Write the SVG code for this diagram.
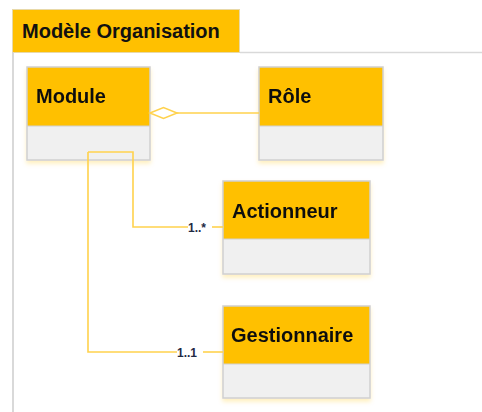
<svg xmlns="http://www.w3.org/2000/svg" width="482" height="412" viewBox="0 0 482 412">
<defs>
<style>
.hdr{fill:#FFC000;}
.body{fill:#F0F0F0;}
.outline{fill:none;stroke:#D0D0D0;stroke-width:1.5;}
.name{font-family:"Liberation Sans",Arial,sans-serif;font-weight:bold;font-size:20px;fill:#111;}
.conn{fill:none;stroke:#FFD24D;stroke-width:1.6;}
.mult{font-family:"Liberation Sans",Arial,sans-serif;font-weight:bold;font-size:12px;fill:#1F2A44;}
</style>
<filter id="sh" x="-10%" y="-10%" width="120%" height="130%">
<feDropShadow dx="0" dy="3" stdDeviation="2" flood-color="#FFC000" flood-opacity="0.25"/>
</filter>
</defs>
<rect width="482" height="412" fill="#FFFFFF"/>
<g id="frame">
<rect x="12.5" y="9.5" width="227" height="43" fill="#FFC000" stroke="#E8D9A8" stroke-width="1"/>
<line x1="13" y1="52.5" x2="13" y2="412" stroke="#D9D9D9" stroke-width="2"/>
<line x1="240" y1="52.5" x2="482" y2="52.5" stroke="#D9D9D9" stroke-width="1.5"/>
<text x="22" y="38" font-family="Liberation Sans,Arial,sans-serif" font-weight="bold" font-size="20" fill="#111">Modèle Organisation</text>
</g>
<g id="module" filter="url(#sh)">
<rect class="hdr" x="27" y="67" width="123" height="59"/>
<rect class="body" x="27" y="126" width="123" height="34"/>
<rect class="outline" x="27" y="67" width="123" height="93"/>
<line x1="27" y1="126" x2="150" y2="126" stroke="#D0D0D0" stroke-width="1"/>
<text class="name" x="36" y="103">Module</text>
</g>
<g id="role" filter="url(#sh)">
<rect class="hdr" x="259" y="67" width="124" height="59"/>
<rect class="body" x="259" y="126" width="124" height="34"/>
<rect class="outline" x="259" y="67" width="124" height="93"/>
<line x1="259" y1="126" x2="383" y2="126" stroke="#D0D0D0" stroke-width="1"/>
<text class="name" x="268" y="103">Rôle</text>
</g>
<g id="actionneur" filter="url(#sh)">
<rect class="hdr" x="223" y="181" width="147" height="58"/>
<rect class="body" x="223" y="239" width="147" height="35"/>
<rect class="outline" x="223" y="181" width="147" height="93"/>
<line x1="223" y1="239" x2="370" y2="239" stroke="#D0D0D0" stroke-width="1"/>
<text class="name" x="232" y="218">Actionneur</text>
</g>
<g id="gestionnaire" filter="url(#sh)">
<rect class="hdr" x="223" y="306" width="147" height="58"/>
<rect class="body" x="223" y="364" width="147" height="34"/>
<rect class="outline" x="223" y="306" width="147" height="92"/>
<line x1="223" y1="364" x2="370" y2="364" stroke="#D0D0D0" stroke-width="1"/>
<text class="name" x="231" y="342">Gestionnaire</text>
</g>
<g id="connectors">
<polyline class="conn" points="177,113 259,113"/>
<polygon points="150,113 163.5,107.5 177,113 163.5,118.5" fill="#FFFFFF" stroke="#FFD24D" stroke-width="1.6"/>
<polyline class="conn" points="88,152 133,152 133,227 188,227"/>
<line class="conn" x1="212" y1="227" x2="223" y2="227"/>
<polyline class="conn" points="88,152 88,352 177,352"/>
<line class="conn" x1="203" y1="352" x2="223" y2="352"/>
<text class="mult" x="188" y="232">1..*</text>
<text class="mult" x="177" y="357">1..1</text>
</g>
</svg>
